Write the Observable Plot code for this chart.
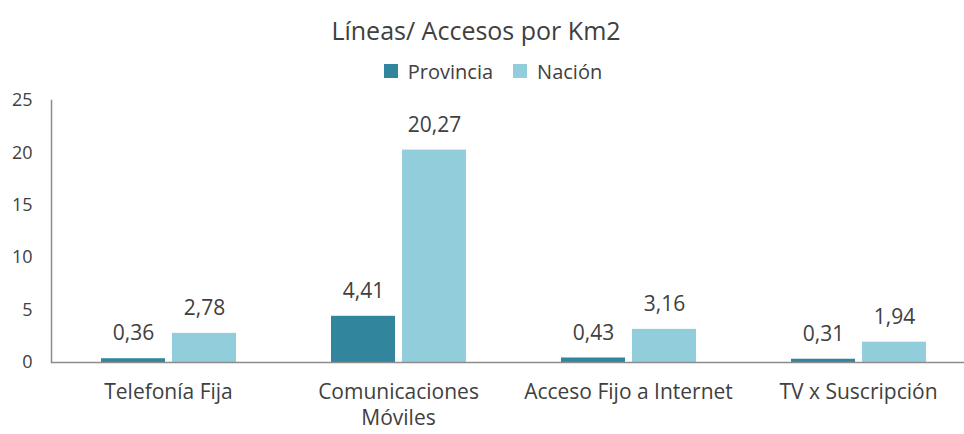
<!DOCTYPE html>
<html>
<head>
<meta charset="utf-8">
<script src="https://cdn.jsdelivr.net/npm/d3@7"></script>
<script src="https://cdn.jsdelivr.net/npm/@observablehq/plot@0.6"></script>
<style>
  html, body { margin: 0; padding: 0; background: #fff; }
  body { width: 964px; height: 434px; overflow: hidden; font-family: "Open Sans", sans-serif; color: #404040; }
  #title { height: 44px; padding-top: 8px; line-height: 44px; font-size: 25px; text-align: center; padding-right: 12px; }
  #legend { height: 24px; padding-top: 12px; display: flex; justify-content: center; align-items: center; padding-left: 42px; }
</style>
</head>
<body>
<div id="title">Líneas/ Accesos por Km2</div>
<div id="legend"></div>
<div id="chart"></div>
<script>
const categories = ["Telefonía Fija", "Comunicaciones Móviles", "Acceso Fijo a Internet", "TV x Suscripción"];
const tickLabels = ["Telefonía Fija", "Comunicaciones\nMóviles", "Acceso Fijo a Internet", "TV x Suscripción"];
const series = ["Provincia", "Nación"];
const colors = ["#31859C", "#92CDDC"];
const provincia = [0.36, 4.41, 0.43, 0.31];
const nacion = [2.78, 20.27, 3.16, 1.94];
const yTicks = [0, 5, 10, 15, 20, 25];

const provRows = categories.map((c, i) => ({cat: c, series: series[0], value: provincia[i]}));
const nacRows = categories.map((c, i) => ({cat: c, series: series[1], value: nacion[i]}));
const fmt = v => d3.format(".2f")(v).replace(".", ",");
const axisColor = "#8c8c8c";
const textColor = "#404040";

const legend = Plot.legend({
  color: {domain: series, range: colors},
  swatchSize: 14,
  style: {fontFamily: "Open Sans", fontSize: "20px", color: textColor, background: "transparent"}
});
document.getElementById("legend").appendChild(legend);

const chart = Plot.plot({
  width: 964,
  height: 346,
  marginLeft: 51,
  marginRight: 0,
  marginTop: 12,
  marginBottom: 72,
  style: {fontFamily: "Open Sans", fontSize: "20px", color: textColor, background: "transparent", overflow: "visible"},
  x: {domain: categories, range: [52, 974], padding: 0, label: null},
  y: {domain: [0, 25], label: null},
  color: {domain: series, range: colors},
  marks: [
    Plot.barY(provRows, {x: "cat", y: "value", fill: "series", insetLeft: 48, insetRight: 118}),
    Plot.barY(nacRows, {x: "cat", y: "value", fill: "series", insetLeft: 119, insetRight: 47}),
    Plot.frame({anchor: "left", stroke: axisColor, strokeWidth: 1.5}),
    Plot.ruleY([0], {stroke: axisColor, strokeWidth: 1.5}),
    Plot.text(provRows, {x: "cat", y: "value", text: d => fmt(d.value), dx: -35, dy: -25, lineAnchor: "middle", fill: textColor, fontSize: 21}),
    Plot.text(nacRows, {x: "cat", y: "value", text: d => fmt(d.value), dx: 36, dy: -25, lineAnchor: "middle", fill: textColor, fontSize: 21}),
    Plot.axisY({ticks: yTicks, tickSize: 0, tickPadding: 19, fontSize: 18, label: null, fill: textColor}),
    Plot.axisX({tickSize: 0, tickPadding: 19, lineHeight: 1.2, tickFormat: d => tickLabels[categories.indexOf(d)], fontSize: 21, label: null, fill: textColor})
  ]
});
document.getElementById("chart").appendChild(chart);
</script>
</body>
</html>
